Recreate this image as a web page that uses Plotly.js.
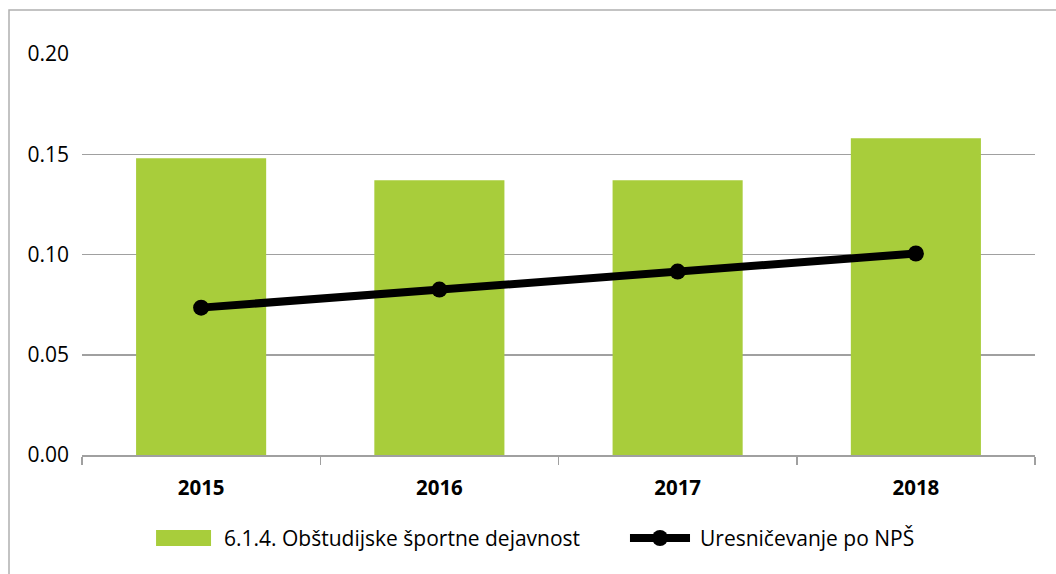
<!DOCTYPE html>
<html>
<head>
<meta charset="utf-8">
<script src="https://cdn.plot.ly/plotly-3.0.1.min.js"></script>
<style>
html,body{margin:0;padding:0;background:#fff;}
#chart{width:1056px;height:574px;}
</style>
</head>
<body>
<div id="chart"></div>
<script>
const years = ["2015", "2016", "2017", "2018"];
const barValues = [0.148, 0.137, 0.137, 0.158];
const lineValues = [0.0735, 0.0825, 0.0915, 0.1005];
const barName = "6.1.4. Obštudijske športne dejavnost";
const lineName = "Uresničevanje po NPŠ";
const yTicks = [0, 0.05, 0.10, 0.15, 0.20];
const yTickText = ["0.00", "0.05", "0.10", "0.15", "0.20"];

const barColor = "#a8cd3b";
const lineColor = "#000000";
const FONT = "Open Sans, sans-serif";

const data = [
  {
    type: "bar",
    x: years,
    y: barValues,
    name: barName,
    marker: {color: barColor},
    hoverinfo: "x+y",
    showlegend: false
  },
  {
    type: "scatter",
    mode: "lines+markers",
    x: years,
    y: lineValues,
    name: lineName,
    line: {color: lineColor, width: 8},
    marker: {color: lineColor, size: 16},
    hoverinfo: "x+y",
    showlegend: false
  }
];

// legend drawn in paper coordinates (below the plot)
const legY = -0.207;
const shapes = [
  {type: "rect", xref: "paper", yref: "paper", x0: -0.0766, x1: 1.1, y0: -0.5, y1: 1.11,
   line: {color: "#b0b0b0", width: 1.5}, fillcolor: "rgba(0,0,0,0)", layer: "below"},
  {type: "rect", xref: "paper", yref: "paper", x0: 0.0777, x1: 0.1354, y0: -0.2269, y1: -0.187,
   line: {width: 0}, fillcolor: barColor},
  {type: "line", xref: "paper", yref: "paper", x0: 0.575, x1: 0.638, y0: legY, y1: legY,
   line: {color: lineColor, width: 8}},
  {type: "circle", xref: "paper", yref: "paper", xsizemode: "pixel", ysizemode: "pixel",
   xanchor: 0.6065, yanchor: legY, x0: -8, x1: 8, y0: -8, y1: 8,
   line: {width: 0}, fillcolor: lineColor}
];
const annotations = [
  {xref: "paper", yref: "paper", x: 0.1469, y: legY, xanchor: "left", yanchor: "middle",
   text: barName, showarrow: false, font: {family: FONT, size: 21, color: "#000"}},
  {xref: "paper", yref: "paper", x: 0.6464, y: legY, xanchor: "left", yanchor: "middle",
   text: lineName, showarrow: false, font: {family: FONT, size: 21, color: "#000"}}
];

const layout = {
  width: 1056,
  height: 574,
  margin: {l: 82, r: 21, t: 54, b: 119},
  paper_bgcolor: "#ffffff",
  plot_bgcolor: "#ffffff",
  bargap: 0.454,
  showlegend: false,
  font: {family: FONT, color: "#000000", size: 20},
  xaxis: {
    type: "category",
    tickson: "boundaries",
    ticks: "outside",
    ticklen: 8,
    tickcolor: "#a0a0a0",
    tickwidth: 1.5,
    showline: true,
    linecolor: "#a0a0a0",
    linewidth: 1.5,
    showgrid: false,
    ticklabelstandoff: 14,
    tickfont: {family: FONT, size: 20.5, color: "#000", weight: "bold"},
    fixedrange: true
  },
  yaxis: {
    range: [0, 0.2],
    tickvals: yTicks,
    ticktext: yTickText,
    showgrid: true,
    gridcolor: "#a0a0a0",
    gridwidth: 1.5,
    zeroline: false,
    showline: false,
    ticks: "",
    ticklabelstandoff: 12,
    tickfont: {family: FONT, size: 21, color: "#000"},
    fixedrange: true
  },
  shapes: shapes,
  annotations: annotations
};

Plotly.newPlot("chart", data, layout, {displayModeBar: false, staticPlot: true});
</script>
</body>
</html>
